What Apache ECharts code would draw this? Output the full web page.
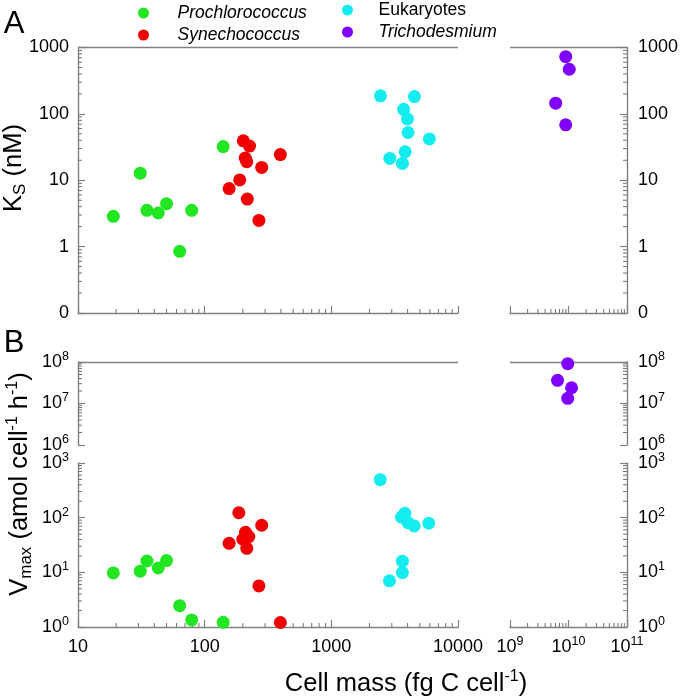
<!DOCTYPE html>
<html>
<head>
<meta charset="utf-8">
<script src="https://cdn.jsdelivr.net/npm/echarts@6/dist/echarts.min.js"></script>
<style>html,body{margin:0;padding:0;background:#fff;}#c{width:680px;height:699px;}</style>
</head>
<body>
<div id="c"></div>
<script>
// ---- data ----
const proX = [19, 31, 35, 43, 50, 63.5, 79, 140];
const proKs = [2.86, 12.8, 3.52, 3.21, 4.43, 0.85, 3.52, 32.2];
const proVmaxX = [19, 31, 35, 43, 50, 63.5, 79, 140];
const proVmax = [9.75, 10.5, 16.1, 12.0, 16.4, 2.46, 1.35, 1.22];

const synX = [156, 189, 202, 209, 215, 217, 226, 268, 282, 396];
const synKs = [7.5, 10.1, 39.3, 21.6, 19.0, 5.2, 32.7, 2.48, 15.6, 24.4];
const synVmaxX = [156, 186, 200, 210, 215, 223, 268, 282, 396];
const synVmax = [34, 123, 40.3, 54, 27.5, 45, 5.64, 72.6, 1.21];

const eukX = [2444, 4529, 3724, 3991, 4036, 5943, 3828, 2896, 3641];
const eukKs = [187, 182, 117, 84, 52.4, 42, 26.8, 21.3, 17.9];
const eukVmaxX = [2432, 3805, 3580, 4036, 4508, 5874, 3640, 3640, 2877];
const eukVmax = [495, 120, 102, 81, 70.5, 79, 16.0, 9.9, 7.0];

const triX = [8.96e9, 1.03e10, 6.04e9, 8.96e9];
const triKs = [728, 470, 145, 68.4];
const triVmaxX = [9.7e9, 6.5e9, 1.13e10, 9.7e9];
const triVmax = [9.1e7, 3.62e7, 2.4e7, 1.33e7];

// tick values
const xLeftTicks = [10, 100, 1000, 10000];
const xRightTicks = [1e9, 1e10, 1e11];
const ksTicks = [0.1, 1, 10, 100, 1000];
const vTopTicks = [1e6, 1e7, 1e8];
const vBotTicks = [1, 10, 100, 1000];

const xLeftDecades = [10, 100, 1000];
const xRightDecades = [1e9, 1e10];
const ksDecades = [0.1, 1, 10, 100];
const vTopDecades = [1e6, 1e7];
const vBotDecades = [1, 10, 100];

const colors = { pro: '#22e622', syn: '#f00000', euk: '#14ecf0', tri: '#7f00ff' };

// ---- helpers ----
function minor(decades) { const o = []; decades.forEach(d => { for (let k = 2; k <= 9; k++) o.push(+(k * d).toPrecision(6)); }); return o; }
function zip(a, b) { return a.map((v, i) => [v, b[i]]); }
const FONT = 'Liberation Sans, Arial, sans-serif';
const AX = '#808080';
const supRich = { s: { fontSize: 12.5, lineHeight: 12, verticalAlign: 'top', fontFamily: FONT, color: '#000' } };
function supFmt(v) { return '10{s|' + Math.round(Math.log10(v)) + '}'; }
function plainFmt(v) { return v < 0.5 ? '0' : String(Math.round(v)); }

function mainX(grid, min, max, ticks, showLabels, fmt) {
  return {
    type: 'log', logBase: 10, gridIndex: grid, min: min, max: max, position: 'bottom',
    axisLine: { show: true, lineStyle: { color: AX, width: 1.4 } },
    axisTick: { show: true, inside: true, length: 7, customValues: ticks, lineStyle: { color: AX, width: 1.2 } },
    axisLabel: { show: showLabels, customValues: ticks, formatter: fmt, margin: 8, fontSize: 18, lineHeight: 24, color: '#000', fontFamily: FONT, rich: supRich },
    splitLine: { show: false }
  };
}
function mainY(grid, min, max, ticks, pos, fmt) {
  return {
    type: 'log', logBase: 10, gridIndex: grid, min: min, max: max, position: pos,
    axisLine: { show: true, lineStyle: { color: AX, width: 1.4 } },
    axisTick: { show: true, inside: true, length: 7, customValues: ticks, lineStyle: { color: AX, width: 1.2 } },
    axisLabel: { show: true, customValues: ticks, formatter: fmt, margin: pos === 'left' ? 9 : 11, fontSize: 18, lineHeight: 24, color: '#000', fontFamily: FONT, rich: supRich },
    splitLine: { show: false }
  };
}
function hiddenX(grid, min, max) {
  return { type: 'log', logBase: 10, gridIndex: grid, min: min, max: max, position: 'bottom', show: false };
}

const LX = 78, LW = 380, RX = 510, RW = 117;
const grids = [
  { left: LX, top: 47.5, width: LW, height: 265.5 },
  { left: RX, top: 47.5, width: RW, height: 265.5 },
  { left: LX, top: 362, width: LW, height: 83 },
  { left: RX, top: 362, width: RW, height: 83 },
  { left: LX, top: 463, width: LW, height: 164 },
  { left: RX, top: 463, width: RW, height: 164 }
].map(g => Object.assign({ outerBoundsMode: 'none', containLabel: false }, g));

const xAxes = [
  mainX(0, 10, 10000, xLeftTicks, false, plainFmt),   // 0
  mainX(1, 1e9, 1e11, xRightTicks, false, supFmt),     // 1
  hiddenX(2, 10, 10000),                               // 2
  hiddenX(3, 1e9, 1e11),                               // 3
  mainX(4, 10, 10000, xLeftTicks, true, plainFmt),     // 4
  mainX(5, 1e9, 1e11, xRightTicks, true, supFmt)       // 5
];
const yAxes = [
  mainY(0, 0.1, 1000, ksTicks, 'left', plainFmt),      // 0
  mainY(1, 0.1, 1000, ksTicks, 'right', plainFmt),     // 1
  mainY(2, 1e6, 1e8, vTopTicks, 'left', supFmt),       // 2
  mainY(3, 1e6, 1e8, vTopTicks, 'right', supFmt),      // 3
  mainY(4, 1, 1000, vBotTicks, 'left', supFmt),        // 4
  mainY(5, 1, 1000, vBotTicks, 'right', supFmt)        // 5
];

const topLine = (yMax) => ({ silent: true, symbol: ['none', 'none'], label: { show: false },
  lineStyle: { color: AX, width: 1.4, type: 'solid' }, emphasis: { disabled: true }, animation: false,
  data: [{ yAxis: yMax }] });

function sc(name, color, xi, yi, data, yMax) {
  const s = { type: 'scatter', name: name, xAxisIndex: xi, yAxisIndex: yi, data: data, symbol: 'circle', symbolSize: 13,
    itemStyle: { color: color, opacity: 1 }, emphasis: { disabled: true }, z: 5 };
  if (yMax) s.markLine = topLine(yMax);
  return s;
}
// minor log ticks (2..9 of each decade), placed through the axes' own scales
function minorTicks(xi, yi, data, dx, dy) {
  return {
    type: 'custom', xAxisIndex: xi, yAxisIndex: yi, data: data, silent: true, clip: false, z: 3, animation: false,
    renderItem: function (params, api) {
      const p = api.coord([api.value(0), api.value(1)]);
      return { type: 'line', shape: { x1: p[0], y1: p[1], x2: p[0] + dx, y2: p[1] + dy },
        style: { stroke: '#707070', lineWidth: 1 } };
    }
  };
}
const series = [
  sc('Prochlorococcus', colors.pro, 0, 0, zip(proX, proKs), 1000),
  sc('Synechococcus', colors.syn, 0, 0, zip(synX, synKs)),
  sc('Eukaryotes', colors.euk, 0, 0, zip(eukX, eukKs)),
  sc('Trichodesmium', colors.tri, 1, 1, zip(triX, triKs), 1000),
  sc('Prochlorococcus', colors.pro, 4, 4, zip(proVmaxX, proVmax)),
  sc('Synechococcus', colors.syn, 4, 4, zip(synVmaxX, synVmax)),
  sc('Eukaryotes', colors.euk, 4, 4, zip(eukVmaxX, eukVmax)),
  sc('Trichodesmium', colors.tri, 3, 3, zip(triVmaxX, triVmax), 1e8),
  { type: 'scatter', xAxisIndex: 2, yAxisIndex: 2, data: [], silent: true, markLine: topLine(1e8) },
  // panel A
  minorTicks(0, 0, minor(xLeftDecades).map(v => [v, 0.1]), 0, -4),
  minorTicks(0, 0, minor(ksDecades).map(v => [10, v]), 4, 0),
  minorTicks(1, 1, minor(xRightDecades).map(v => [v, 0.1]), 0, -4),
  minorTicks(1, 1, minor(ksDecades).map(v => [1e11, v]), -4, 0),
  // panel B top segment
  minorTicks(2, 2, minor(vTopDecades).map(v => [10, v]), 4, 0),
  minorTicks(3, 3, minor(vTopDecades).map(v => [1e11, v]), -4, 0),
  // panel B bottom segment
  minorTicks(4, 4, minor(xLeftDecades).map(v => [v, 1]), 0, -4),
  minorTicks(4, 4, minor(vBotDecades).map(v => [10, v]), 4, 0),
  minorTicks(5, 5, minor(xRightDecades).map(v => [v, 1]), 0, -4),
  minorTicks(5, 5, minor(vBotDecades).map(v => [1e11, v]), -4, 0)
];

const legendText = { fontSize: 17.5, lineHeight: 20, color: '#000', fontFamily: FONT,
  rich: { i: { fontStyle: 'italic', fontSize: 17.5, lineHeight: 20, fontFamily: FONT, color: '#000' },
          n: { fontSize: 17.5, lineHeight: 20, fontFamily: FONT, color: '#000' } } };
const legFmt = name => name === 'Eukaryotes' ? '{n|' + name + '}' : '{i|' + name + '}';

const titleRich = {
  b: { fontSize: 25.5, lineHeight: 30, fontFamily: FONT, fill: '#000', color: '#000' },
  sub: { fontSize: 17, lineHeight: 17, verticalAlign: 'bottom', fontFamily: FONT, fill: '#000', color: '#000' },
  sup: { fontSize: 16, lineHeight: 16, verticalAlign: 'top', fontFamily: FONT, fill: '#000', color: '#000' }
};

const option = {
  animation: false,
  backgroundColor: '#fff',
  grid: grids,
  xAxis: xAxes,
  yAxis: yAxes,
  legend: [
    { data: ['Prochlorococcus', 'Synechococcus'], orient: 'vertical', left: 138, top: 3, itemWidth: 58, itemHeight: 11,
      itemGap: 2, icon: 'circle', selectedMode: false, formatter: legFmt, textStyle: legendText, padding: 0 },
    { data: ['Eukaryotes', 'Trichodesmium'], orient: 'vertical', left: 342, top: 0, itemWidth: 52, itemHeight: 11,
      itemGap: 2, icon: 'circle', selectedMode: false, formatter: legFmt, textStyle: legendText, padding: 0 }
  ],
  graphic: [
    { type: 'text', x: 14, y: 24, style: { text: 'A', fontSize: 31, fontFamily: FONT, fill: '#000', align: 'center', verticalAlign: 'middle' } },
    { type: 'text', x: 14, y: 343, style: { text: 'B', fontSize: 31, fontFamily: FONT, fill: '#000', align: 'center', verticalAlign: 'middle' } },
    { type: 'text', x: 14, y: 168, rotation: Math.PI / 2,
      style: { text: '{b|K}{sub|S}{b| (nM)}', rich: titleRich, align: 'center', verticalAlign: 'middle' } },
    { type: 'text', x: 20, y: 484, rotation: Math.PI / 2,
      style: { text: '{b|V}{sub|max}{b| (amol cell}{sup|-1}{b| h}{sup|-1}{b|)}', rich: titleRich, align: 'center', verticalAlign: 'middle' } },
    { type: 'text', x: 406, y: 684,
      style: { text: '{b|Cell mass (fg C cell}{sup|-1}{b|)}', rich: titleRich, align: 'center', verticalAlign: 'middle' } }
  ],
  series: series
};

const chart = echarts.init(document.getElementById('c'), null, { renderer: 'canvas' });
chart.setOption(option);
</script>
</body>
</html>
